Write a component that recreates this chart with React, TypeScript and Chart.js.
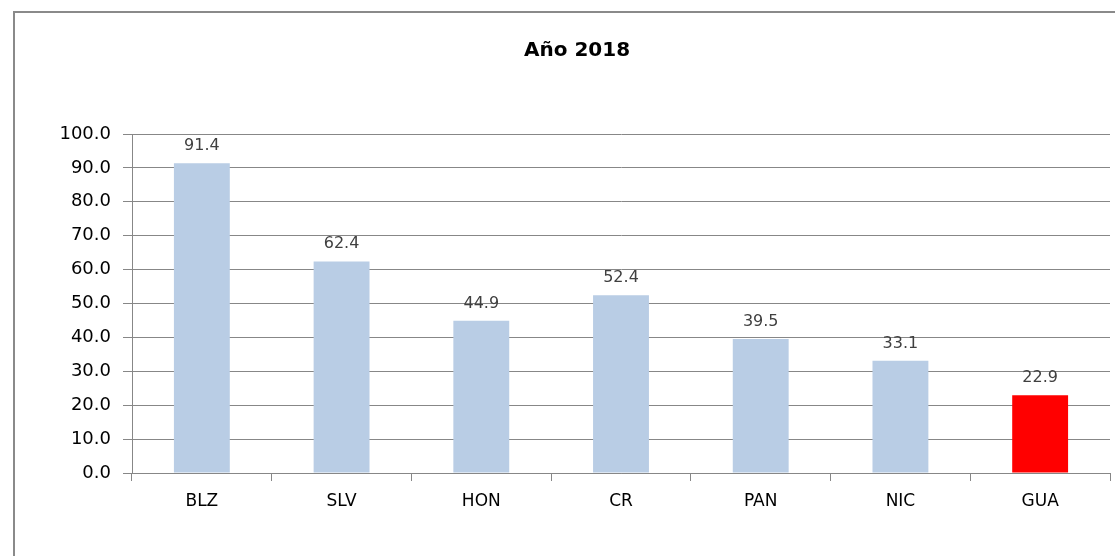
import React, { useEffect, useRef } from "react";
import { Chart, registerables } from "chart.js";

Chart.register(...registerables);

const title = "Año 2018";
const categories = ["BLZ", "SLV", "HON", "CR", "PAN", "NIC", "GUA"];
const values = [91.4, 62.4, 44.9, 52.4, 39.5, 33.1, 22.9];
const barColors = ["#B9CDE5", "#B9CDE5", "#B9CDE5", "#B9CDE5", "#B9CDE5", "#B9CDE5", "#FF0000"];
const yMin = 0;
const yMax = 100;
const yStep = 10;

const W = 1115;
const H = 556;
const FONT = "'DejaVu Sans', sans-serif";
const GRID = "#878787";

const framePlugin = {
  id: "frame",
  beforeDraw(chart: any) {
    const ctx = chart.ctx;
    ctx.save();
    ctx.fillStyle = "#ffffff";
    ctx.fillRect(0, 0, W, H);
    ctx.strokeStyle = "#8a8a8a";
    ctx.lineWidth = 2;
    ctx.strokeRect(14, 12, W + 20, H + 20);
    ctx.fillStyle = "#000000";
    ctx.font = `bold 20px ${FONT}`;
    ctx.textAlign = "center";
    ctx.textBaseline = "alphabetic";
    ctx.fillText(title, 577, 56);
    ctx.restore();
  },
};

const labelPlugin = {
  id: "valueLabels",
  afterDatasetsDraw(chart: any) {
    const ctx = chart.ctx;
    const meta = chart.getDatasetMeta(0);
    ctx.save();
    ctx.fillStyle = "#404040";
    ctx.font = `16px ${FONT}`;
    ctx.textAlign = "center";
    ctx.textBaseline = "alphabetic";
    meta.data.forEach((bar: any, i: number) => {
      ctx.fillText(values[i].toFixed(1), bar.x, bar.y - 13);
    });
    ctx.restore();
  },
};

export default function App() {
  const ref = useRef<HTMLCanvasElement | null>(null);
  useEffect(() => {
    if (!ref.current) return;
    const chart = new Chart(ref.current, {
      type: "bar",
      data: {
        labels: categories,
        datasets: [
          {
            data: values,
            backgroundColor: barColors,
            borderWidth: 0,
            categoryPercentage: 1,
            barPercentage: 0.4,
          },
        ],
      },
      options: {
        responsive: false,
        animation: false,
        devicePixelRatio: 1,
        layout: { padding: { left: 0, top: 134, right: 5, bottom: 0 } },
        plugins: {
          legend: { display: false },
          title: { display: false },
          tooltip: { enabled: false },
        },
        scales: {
          x: {
            offset: true,
            grid: {
              offset: true,
              drawOnChartArea: false,
              drawTicks: true,
              tickLength: 8,
              color: GRID,
            },
            border: { display: true, color: GRID, width: 1 },
            ticks: {
              color: "#000000",
              font: { family: "DejaVu Sans", size: 17 },
              padding: 10,
              maxRotation: 0,
            },
            afterFit(scale: any) {
              scale.height = 83;
            },
          },
          y: {
            min: yMin,
            max: yMax,
            ticks: {
              stepSize: yStep,
              color: "#000000",
              font: { family: "DejaVu Sans", size: 18 },
              padding: 12,
              callback: (v: any) => Number(v).toFixed(1),
            },
            grid: { color: GRID, tickLength: 9, drawTicks: true },
            border: { display: true, color: GRID, width: 1 },
            afterFit(scale: any) {
              scale.width = 132;
            },
          },
        },
      },
      plugins: [framePlugin, labelPlugin],
    });
    return () => chart.destroy();
  }, []);
  return (
    <div style={{ position: "absolute", left: 0, top: 0, width: W, height: H, background: "#fff" }}>
      <canvas ref={ref} width={W} height={H} style={{ display: "block" }} />
    </div>
  );
}
